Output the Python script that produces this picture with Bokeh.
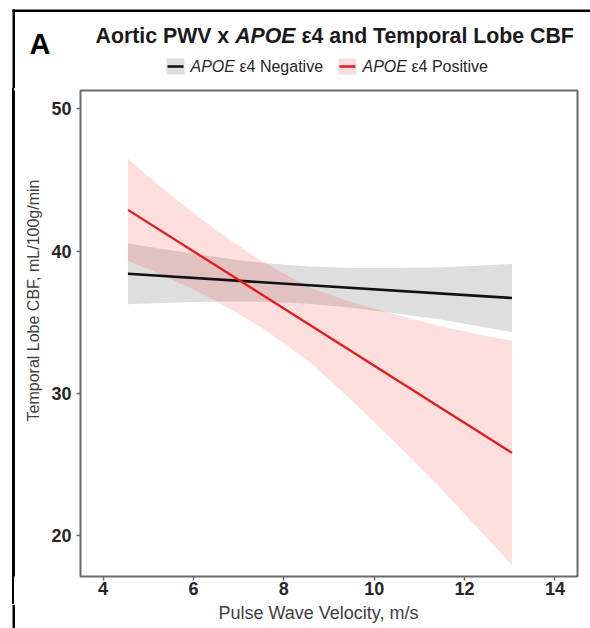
import math
from bokeh.plotting import figure
from bokeh.layouts import column, row
from bokeh.models import Label, FixedTicker, Range1d
from bokeh.embed import file_html
from bokeh.resources import INLINE

# ---------------- data ----------------
fit_x = [4.55, 13.05]
neg_fit = [38.4, 36.7]          # APOE e4 negative regression line
pos_fit = [42.9, 25.8]          # APOE e4 positive regression line

band_x = [4.55, 5.0, 5.5, 6.0, 6.5, 7.0, 7.5, 8.0, 8.6, 9.5, 10.5, 11.5, 12.5, 13.05]
neg_upper = [40.55, 40.31, 40.06, 39.81, 39.58, 39.36, 39.18, 39.03, 38.91, 38.81, 38.81, 38.86, 39.01, 39.10]
neg_lower = [36.25, 36.31, 36.36, 36.41, 36.44, 36.46, 36.44, 36.39, 36.27, 36.01, 35.61, 35.16, 34.61, 34.30]
pos_upper = [46.5, 45.24, 43.94, 42.69, 41.48, 40.38, 39.32, 38.42, 37.41, 36.4, 35.5, 34.7, 34.0, 33.7]
pos_lower = [39.3, 38.74, 38.04, 37.29, 36.48, 35.58, 34.62, 33.52, 32.11, 29.5, 26.4, 23.2, 19.8, 17.9]

x_ticks = [4, 6, 8, 10, 12, 14]
y_ticks = [20, 30, 40, 50]

title_parts = ["Aortic PWV x", "APOE", "\u03b54 and Temporal Lobe CBF"]
legend_labels = ["Negative", "Positive"]
x_title = "Pulse Wave Velocity, m/s"
y_title = "Temporal Lobe CBF, mL/100g/min"
panel_tag = "A"

# ---------------- layout ----------------
FONT = "Liberation Sans"
W, H = 590, 628
HEAD_H = 88
FOOT_H = 24
STRIP_W = 48
FL, FR, FT, FB = 80, 577, 90, 576          # plot frame in page pixels
X0, X1 = 3.5, 14.5
Y0, Y1 = 17.1, 51.3
MID_H = H - HEAD_H - FOOT_H


def bare(width, height, xr, yr):
    f = figure(width=width, height=height, x_range=xr, y_range=yr,
               output_backend="svg", toolbar_location=None,
               x_axis_location=None, y_axis_location=None,
               min_border=0, min_border_left=0, min_border_right=0,
               min_border_top=0, min_border_bottom=0)
    f.grid.visible = False
    f.outline_line_color = None
    f.background_fill_color = "white"
    f.border_fill_color = "white"
    return f


# header and footer: page pixel coordinates (y downwards)
head = bare(W, HEAD_H, Range1d(0, W), Range1d(HEAD_H, 0))
foot = bare(W, FOOT_H, Range1d(0, W), Range1d(H, H - FOOT_H))
# strip left of the plot; its frame is aligned with the plot frame (page y 90..576)
strip = bare(STRIP_W, MID_H, Range1d(0, STRIP_W), Range1d(FB, FT))
strip.background_fill_alpha = 0
strip.border_fill_alpha = 0
strip.styles = {"background": "linear-gradient(to right, #ffffff 0px, #ffffff 12px, "
                              "#000000 12px, #000000 14.5px, #ffffff 14.5px, #ffffff 100%)"}

# outer black frame (left and top edges)
head.quad(left=[12], right=[W], top=[9], bottom=[11.5], fill_color="black", line_color=None)
head.quad(left=[12], right=[14.5], top=[9], bottom=[HEAD_H], fill_color="black", line_color=None)
strip.quad(left=[12], right=[14.5], top=[HEAD_H], bottom=[H], fill_color="black", line_color=None)
foot.quad(left=[12], right=[14.5], top=[H - FOOT_H], bottom=[H], fill_color="black", line_color=None)

# main plot
p = figure(width=W - STRIP_W, height=MID_H,
           x_range=Range1d(X0, X1), y_range=Range1d(Y0, Y1),
           output_backend="svg", toolbar_location=None,
           min_border_left=FL - STRIP_W, min_border_right=W - FR,
           min_border_top=FT - HEAD_H, min_border_bottom=H - FOOT_H - FB)
p.grid.visible = False
p.background_fill_color = "white"
p.border_fill_color = "white"
p.outline_line_color = "#6a6a6a"
p.outline_line_width = 2

for ax in (p.xaxis[0], p.yaxis[0]):
    ax.axis_line_color = None
    ax.major_tick_line_color = "#6a6a6a"
    ax.major_tick_line_width = 1.5
    ax.major_tick_out = 4
    ax.major_tick_in = 0
    ax.minor_tick_line_color = None
    ax.major_label_text_font = FONT
    ax.major_label_text_font_style = "bold"
    ax.major_label_text_font_size = "18px"
    ax.major_label_text_color = "#262626"
p.yaxis[0].major_label_standoff = 5
p.xaxis[0].major_label_standoff = 1
p.xaxis[0].ticker = FixedTicker(ticks=x_ticks)
p.yaxis[0].ticker = FixedTicker(ticks=y_ticks)

# bands and lines
p.varea(x=band_x, y1=neg_lower, y2=neg_upper, fill_color="black", fill_alpha=0.13)
p.varea(x=band_x, y1=pos_lower, y2=pos_upper, fill_color="red", fill_alpha=0.13)
p.line(fit_x, neg_fit, line_color="#111111", line_width=2.6)
p.line(fit_x, pos_fit, line_color="#e41a1c", line_width=2.3)

# axis titles
strip.add_layout(Label(x=33, y=300, text=y_title, text_font=FONT,
                       text_font_size="16px", text_color="#404040", angle=math.pi / 2,
                       text_align="center", text_baseline="middle"))
foot.add_layout(Label(x=318, y=612, text=x_title, text_font=FONT,
                      text_font_size="18px", text_color="#404040",
                      text_align="center", text_baseline="middle"))

# panel tag
head.add_layout(Label(x=29, y=43, text=panel_tag, text_font=FONT,
                      text_font_size="29px", text_font_style="bold", text_color="black",
                      text_align="left", text_baseline="middle"))

# title (mixed style)
fs = 21.3
w1 = 6.557 * fs
w2 = 3.112 * fs
tx, ty = 95, 35
styles = ["bold", "bold italic", "bold"]
offs = [0, w1, w1 + w2]
for txt, st, o in zip(title_parts, styles, offs):
    head.add_layout(Label(x=tx + o, y=ty, text=txt, text_font=FONT,
                          text_font_size=f"{fs}px", text_font_style=st, text_color="#1a1a1a",
                          text_align="left", text_baseline="middle"))

# legend
lfs = 16
key_w, key_h = 18, 16
ly = 66
key_cols = [("#dedede", "#111111"), ("#fadcdd", "#e41a1c")]
apoe_w = (2.779 + 0.278) * lfs
key_lefts = [166, 338]
for lab, kl, (fill, lc) in zip(legend_labels, key_lefts, key_cols):
    head.quad(left=[kl], right=[kl + key_w], top=[ly - key_h / 2], bottom=[ly + key_h / 2],
              fill_color=fill, line_color=None)
    head.quad(left=[kl + 1], right=[kl + key_w - 1], top=[ly - 1.2], bottom=[ly + 1.2],
              fill_color=lc, line_color=None)
    t0 = kl + key_w + 6
    head.add_layout(Label(x=t0, y=ly, text="APOE", text_font=FONT,
                          text_font_size=f"{lfs}px", text_font_style="italic", text_color="#262626",
                          text_align="left", text_baseline="middle"))
    head.add_layout(Label(x=t0 + apoe_w, y=ly, text="\u03b54 " + lab, text_font=FONT,
                          text_font_size=f"{lfs}px", text_color="#262626",
                          text_align="left", text_baseline="middle"))

layout = column(head, row(strip, p, spacing=0), foot, spacing=0)
open("out.html", "w").write(file_html(layout, INLINE))
